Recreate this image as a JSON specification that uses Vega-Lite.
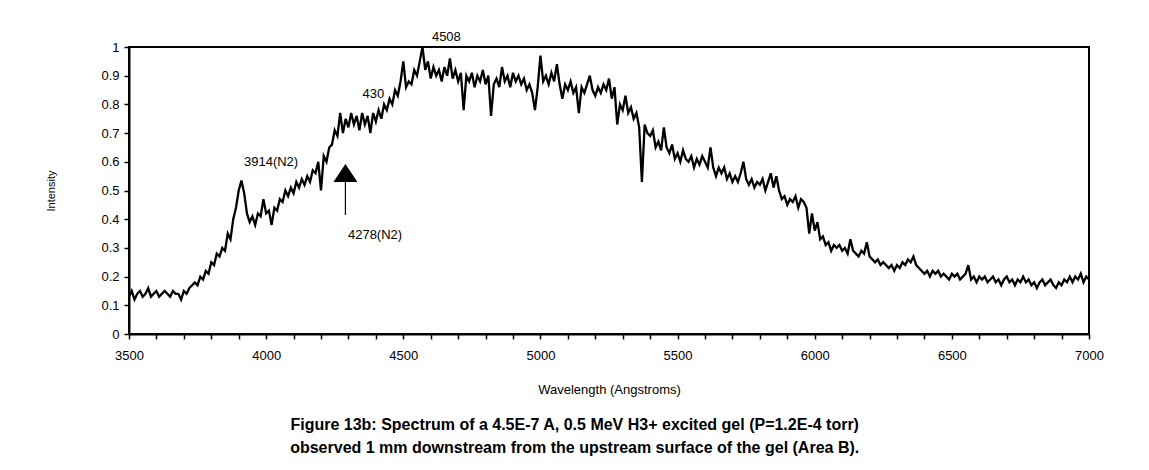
{
  "$schema": "https://vega.github.io/schema/vega-lite/v6.json",
  "width": 960,
  "height": 287,
  "autosize": {"type": "none"},
  "padding": {"left": 129, "top": 47, "right": 60, "bottom": 136},
  "background": "white",
  "title": {
    "text": ["Figure 13b: Spectrum of a 4.5E-7 A, 0.5 MeV H3+ excited gel (P=1.2E-4 torr)", "observed 1 mm downstream from the upstream surface of the gel (Area B)."],
    "orient": "bottom",
    "anchor": "middle",
    "frame": "bounds",
    "offset": 21,
    "font": "Liberation Sans",
    "fontSize": 16,
    "fontWeight": "bold",
    "lineHeight": 23,
    "color": "black"
  },
  "config": {
    "view": {"stroke": "black", "strokeWidth": 2},
    "axis": {
      "grid": false,
      "domainColor": "black",
      "domainWidth": 2,
      "tickColor": "black",
      "tickWidth": 1.5,
      "tickSize": 5,
      "labelColor": "black",
      "labelFont": "Liberation Sans",
      "labelFontSize": 13,
      "titleColor": "black",
      "titleFont": "Liberation Sans",
      "titleFontWeight": "normal"
    }
  },
  "encoding": {
    "x": {
      "field": "w", "type": "quantitative",
      "scale": {"domain": [3500, 7000], "nice": false, "zero": false},
      "axis": {
        "title": "Wavelength (Angstroms)",
        "titleFontSize": 13,
        "titlePadding": 21,
        "labelPadding": 10,
        "values": [3500,3600,3700,3800,3900,4000,4100,4200,4300,4400,4500,4600,4700,4800,4900,5000,5100,5200,5300,5400,5500,5600,5700,5800,5900,6000,6100,6200,6300,6400,6500,6600,6700,6800,6900,7000],
        "labelExpr": "datum.value % 500 === 0 ? format(datum.value, 'd') : ''",
        "labelFlush": false,
        "labelOverlap": false
      }
    },
    "y": {
      "field": "i", "type": "quantitative",
      "scale": {"domain": [0, 1], "nice": false},
      "axis": {
        "title": "Intensity",
        "titleFontSize": 11,
        "titlePadding": 44,
        "labelPadding": 5,
        "values": [0, 0.1, 0.2, 0.3, 0.4, 0.5, 0.6, 0.7, 0.8, 0.9, 1],
        "format": ".1~f",
        "labelOverlap": false
      }
    }
  },
  "layer": [
    {
      "data": {"values": [
        {"w": 4657, "i": 1.035, "t": "4508"},
        {"w": 4391, "i": 0.836, "t": "430"},
        {"w": 4018, "i": 0.6, "t": "3914(N2)"},
        {"w": 4397, "i": 0.345, "t": "4278(N2)"}
      ]},
      "mark": {"type": "text", "font": "Liberation Sans", "fontSize": 13, "color": "black", "align": "center", "baseline": "middle"},
      "encoding": {
        "text": {"field": "t", "type": "nominal"}
      }
    },
    {
      "data": {"values": [
        {"w":3500,"i":0.13},{"w":3510,"i":0.15},{"w":3520,"i":0.12},{"w":3530,"i":0.14},{"w":3540,"i":0.15},{"w":3550,"i":0.13},{"w":3560,"i":0.14},{"w":3570,"i":0.16},{"w":3580,"i":0.13},{"w":3590,"i":0.14},
        {"w":3600,"i":0.15},{"w":3610,"i":0.13},{"w":3620,"i":0.14},{"w":3630,"i":0.15},{"w":3640,"i":0.14},{"w":3650,"i":0.13},{"w":3660,"i":0.15},{"w":3670,"i":0.14},{"w":3680,"i":0.14},{"w":3690,"i":0.12},
        {"w":3700,"i":0.15},{"w":3710,"i":0.14},{"w":3720,"i":0.16},{"w":3730,"i":0.17},{"w":3740,"i":0.18},{"w":3750,"i":0.17},{"w":3760,"i":0.2},{"w":3770,"i":0.19},{"w":3780,"i":0.22},{"w":3790,"i":0.21},
        {"w":3800,"i":0.25},{"w":3810,"i":0.24},{"w":3820,"i":0.28},{"w":3830,"i":0.27},{"w":3840,"i":0.3},{"w":3850,"i":0.29},{"w":3860,"i":0.35},{"w":3870,"i":0.33},{"w":3880,"i":0.4},{"w":3890,"i":0.44},
        {"w":3900,"i":0.5},{"w":3910,"i":0.535},{"w":3920,"i":0.49},{"w":3930,"i":0.42},{"w":3940,"i":0.39},{"w":3950,"i":0.41},{"w":3960,"i":0.38},{"w":3970,"i":0.42},{"w":3980,"i":0.41},{"w":3990,"i":0.47},
        {"w":4000,"i":0.42},{"w":4010,"i":0.43},{"w":4020,"i":0.38},{"w":4030,"i":0.44},{"w":4040,"i":0.43},{"w":4050,"i":0.47},{"w":4060,"i":0.46},{"w":4070,"i":0.5},{"w":4080,"i":0.48},{"w":4090,"i":0.51},
        {"w":4100,"i":0.49},{"w":4110,"i":0.53},{"w":4120,"i":0.51},{"w":4130,"i":0.54},{"w":4140,"i":0.52},{"w":4150,"i":0.55},{"w":4160,"i":0.53},{"w":4170,"i":0.57},{"w":4180,"i":0.56},{"w":4190,"i":0.6},
        {"w":4200,"i":0.5},{"w":4210,"i":0.62},{"w":4220,"i":0.6},{"w":4230,"i":0.65},{"w":4240,"i":0.66},{"w":4250,"i":0.71},{"w":4260,"i":0.69},{"w":4270,"i":0.77},{"w":4280,"i":0.7},{"w":4290,"i":0.75},
        {"w":4300,"i":0.72},{"w":4310,"i":0.77},{"w":4320,"i":0.73},{"w":4330,"i":0.76},{"w":4340,"i":0.71},{"w":4350,"i":0.77},{"w":4360,"i":0.73},{"w":4370,"i":0.76},{"w":4380,"i":0.7},{"w":4390,"i":0.77},
        {"w":4400,"i":0.74},{"w":4410,"i":0.78},{"w":4420,"i":0.75},{"w":4430,"i":0.8},{"w":4440,"i":0.78},{"w":4450,"i":0.82},{"w":4460,"i":0.8},{"w":4470,"i":0.85},{"w":4480,"i":0.83},{"w":4490,"i":0.88},
        {"w":4500,"i":0.95},{"w":4510,"i":0.86},{"w":4520,"i":0.88},{"w":4530,"i":0.87},{"w":4540,"i":0.92},{"w":4550,"i":0.9},{"w":4560,"i":0.95},{"w":4570,"i":1.0},{"w":4580,"i":0.92},{"w":4590,"i":0.95},
        {"w":4600,"i":0.89},{"w":4610,"i":0.93},{"w":4620,"i":0.9},{"w":4630,"i":0.92},{"w":4640,"i":0.88},{"w":4650,"i":0.93},{"w":4660,"i":0.9},{"w":4670,"i":0.96},{"w":4680,"i":0.89},{"w":4690,"i":0.92},
        {"w":4700,"i":0.88},{"w":4710,"i":0.91},{"w":4720,"i":0.78},{"w":4730,"i":0.9},{"w":4740,"i":0.88},{"w":4750,"i":0.91},{"w":4760,"i":0.86},{"w":4770,"i":0.9},{"w":4780,"i":0.88},{"w":4790,"i":0.92},
        {"w":4800,"i":0.87},{"w":4810,"i":0.9},{"w":4820,"i":0.76},{"w":4830,"i":0.87},{"w":4840,"i":0.89},{"w":4850,"i":0.86},{"w":4860,"i":0.93},{"w":4870,"i":0.88},{"w":4880,"i":0.9},{"w":4890,"i":0.86},
        {"w":4900,"i":0.91},{"w":4910,"i":0.88},{"w":4920,"i":0.9},{"w":4930,"i":0.87},{"w":4940,"i":0.89},{"w":4950,"i":0.85},{"w":4960,"i":0.87},{"w":4970,"i":0.84},{"w":4980,"i":0.78},{"w":4990,"i":0.86},
        {"w":5000,"i":0.97},{"w":5010,"i":0.88},{"w":5020,"i":0.9},{"w":5030,"i":0.87},{"w":5040,"i":0.91},{"w":5050,"i":0.88},{"w":5060,"i":0.94},{"w":5070,"i":0.87},{"w":5080,"i":0.82},{"w":5090,"i":0.87},
        {"w":5100,"i":0.85},{"w":5110,"i":0.88},{"w":5120,"i":0.84},{"w":5130,"i":0.86},{"w":5140,"i":0.77},{"w":5150,"i":0.86},{"w":5160,"i":0.84},{"w":5170,"i":0.87},{"w":5180,"i":0.9},{"w":5190,"i":0.85},
        {"w":5200,"i":0.83},{"w":5210,"i":0.86},{"w":5220,"i":0.84},{"w":5230,"i":0.87},{"w":5240,"i":0.85},{"w":5250,"i":0.89},{"w":5260,"i":0.82},{"w":5270,"i":0.86},{"w":5280,"i":0.73},{"w":5290,"i":0.8},
        {"w":5300,"i":0.78},{"w":5310,"i":0.83},{"w":5320,"i":0.77},{"w":5330,"i":0.79},{"w":5340,"i":0.75},{"w":5350,"i":0.77},{"w":5360,"i":0.72},{"w":5370,"i":0.53},{"w":5380,"i":0.73},{"w":5390,"i":0.7},
        {"w":5400,"i":0.69},{"w":5410,"i":0.71},{"w":5420,"i":0.65},{"w":5430,"i":0.67},{"w":5440,"i":0.64},{"w":5450,"i":0.72},{"w":5460,"i":0.65},{"w":5470,"i":0.63},{"w":5480,"i":0.66},{"w":5490,"i":0.61},
        {"w":5500,"i":0.63},{"w":5510,"i":0.6},{"w":5520,"i":0.64},{"w":5530,"i":0.61},{"w":5540,"i":0.6},{"w":5550,"i":0.62},{"w":5560,"i":0.58},{"w":5570,"i":0.61},{"w":5580,"i":0.59},{"w":5590,"i":0.62},
        {"w":5600,"i":0.6},{"w":5610,"i":0.58},{"w":5620,"i":0.65},{"w":5630,"i":0.58},{"w":5640,"i":0.55},{"w":5650,"i":0.58},{"w":5660,"i":0.56},{"w":5670,"i":0.58},{"w":5680,"i":0.54},{"w":5690,"i":0.56},
        {"w":5700,"i":0.53},{"w":5710,"i":0.55},{"w":5720,"i":0.53},{"w":5730,"i":0.56},{"w":5740,"i":0.6},{"w":5750,"i":0.54},{"w":5760,"i":0.52},{"w":5770,"i":0.54},{"w":5780,"i":0.51},{"w":5790,"i":0.53},
        {"w":5800,"i":0.52},{"w":5810,"i":0.54},{"w":5820,"i":0.5},{"w":5830,"i":0.53},{"w":5840,"i":0.56},{"w":5850,"i":0.51},{"w":5860,"i":0.55},{"w":5870,"i":0.5},{"w":5880,"i":0.47},{"w":5890,"i":0.48},
        {"w":5900,"i":0.45},{"w":5910,"i":0.47},{"w":5920,"i":0.46},{"w":5930,"i":0.48},{"w":5940,"i":0.44},{"w":5950,"i":0.47},{"w":5960,"i":0.46},{"w":5970,"i":0.44},{"w":5980,"i":0.35},{"w":5990,"i":0.42},
        {"w":6000,"i":0.36},{"w":6010,"i":0.39},{"w":6020,"i":0.33},{"w":6030,"i":0.34},{"w":6040,"i":0.31},{"w":6050,"i":0.32},{"w":6060,"i":0.29},{"w":6070,"i":0.31},{"w":6080,"i":0.3},{"w":6090,"i":0.31},
        {"w":6100,"i":0.29},{"w":6110,"i":0.3},{"w":6120,"i":0.28},{"w":6130,"i":0.33},{"w":6140,"i":0.29},{"w":6150,"i":0.28},{"w":6160,"i":0.27},{"w":6170,"i":0.29},{"w":6180,"i":0.28},{"w":6190,"i":0.32},
        {"w":6200,"i":0.27},{"w":6210,"i":0.26},{"w":6220,"i":0.25},{"w":6230,"i":0.26},{"w":6240,"i":0.24},{"w":6250,"i":0.25},{"w":6260,"i":0.24},{"w":6270,"i":0.23},{"w":6280,"i":0.24},{"w":6290,"i":0.22},
        {"w":6300,"i":0.24},{"w":6310,"i":0.23},{"w":6320,"i":0.25},{"w":6330,"i":0.24},{"w":6340,"i":0.26},{"w":6350,"i":0.25},{"w":6360,"i":0.27},{"w":6370,"i":0.24},{"w":6380,"i":0.23},{"w":6390,"i":0.22},
        {"w":6400,"i":0.21},{"w":6410,"i":0.22},{"w":6420,"i":0.2},{"w":6430,"i":0.22},{"w":6440,"i":0.21},{"w":6450,"i":0.22},{"w":6460,"i":0.2},{"w":6470,"i":0.21},{"w":6480,"i":0.2},{"w":6490,"i":0.19},
        {"w":6500,"i":0.21},{"w":6510,"i":0.2},{"w":6520,"i":0.21},{"w":6530,"i":0.19},{"w":6540,"i":0.2},{"w":6550,"i":0.21},{"w":6560,"i":0.24},{"w":6570,"i":0.19},{"w":6580,"i":0.2},{"w":6590,"i":0.18},
        {"w":6600,"i":0.2},{"w":6610,"i":0.19},{"w":6620,"i":0.2},{"w":6630,"i":0.18},{"w":6640,"i":0.19},{"w":6650,"i":0.2},{"w":6660,"i":0.18},{"w":6670,"i":0.19},{"w":6680,"i":0.17},{"w":6690,"i":0.19},
        {"w":6700,"i":0.2},{"w":6710,"i":0.18},{"w":6720,"i":0.19},{"w":6730,"i":0.17},{"w":6740,"i":0.19},{"w":6750,"i":0.18},{"w":6760,"i":0.2},{"w":6770,"i":0.18},{"w":6780,"i":0.19},{"w":6790,"i":0.17},
        {"w":6800,"i":0.18},{"w":6810,"i":0.16},{"w":6820,"i":0.18},{"w":6830,"i":0.19},{"w":6840,"i":0.17},{"w":6850,"i":0.18},{"w":6860,"i":0.19},{"w":6870,"i":0.17},{"w":6880,"i":0.16},{"w":6890,"i":0.18},
        {"w":6900,"i":0.17},{"w":6910,"i":0.19},{"w":6920,"i":0.18},{"w":6930,"i":0.2},{"w":6940,"i":0.18},{"w":6950,"i":0.2},{"w":6960,"i":0.19},{"w":6970,"i":0.21},{"w":6980,"i":0.18},{"w":6990,"i":0.2},
        {"w":7000,"i":0.19}
      ]},
      "mark": {"type": "line", "color": "black", "strokeWidth": 2.3}
    },
    {
      "data": {"values": [{"w": 4289, "i": 0.415, "i2": 0.53}]},
      "mark": {"type": "rule", "color": "black", "strokeWidth": 1.2},
      "encoding": {
        "y2": {"field": "i2"}
      }
    },
    {
      "data": {"values": [{"w": 4289, "i": 0.561}]},
      "mark": {"type": "point", "shape": "M-1,0.75H1L0,-0.75Z", "size": 576, "filled": true, "color": "black", "opacity": 1}
    }
  ]
}
